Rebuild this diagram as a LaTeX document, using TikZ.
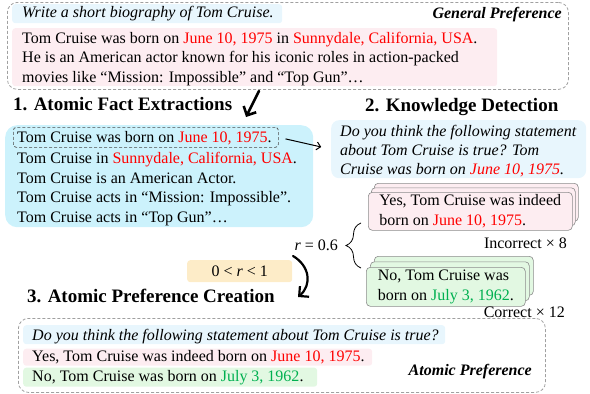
\documentclass[tikz,border=0pt]{standalone}
\usepackage{fontspec}
\setmainfont{Liberation Serif}
\usetikzlibrary{arrows.meta,positioning,decorations.pathreplacing}

\definecolor{pinkbg}{RGB}{253,237,241}
\definecolor{bluebg}{RGB}{232,246,253}
\definecolor{cyanbg}{RGB}{204,242,252}
\definecolor{greenbg}{RGB}{226,248,226}
\definecolor{yellowbg}{RGB}{253,236,200}
\definecolor{datered}{RGB}{255,0,0}
\definecolor{dategreen}{RGB}{0,176,80}
\definecolor{dashgray}{RGB}{160,160,160}

\newcommand{\redtxt}[1]{\textcolor{datered}{#1}}
\newcommand{\greentxt}[1]{\textcolor{dategreen}{#1}}

\begin{document}
\begin{tikzpicture}[x=1pt, y=-1pt,
    every node/.style={font=\fontsize{16}{19.4}\selectfont, inner sep=0pt},
    head/.style={font=\fontsize{19}{22}\selectfont\bfseries, anchor=base west},
    hlbox/.style={anchor=north west, rounded corners=3pt},
    prefbox/.style={anchor=north west, draw=dashgray, dash pattern=on 3pt off 2pt, line width=0.8pt, rounded corners=10pt},
    card/.style={anchor=north west, draw=black!45, line width=0.6pt, rounded corners=4pt, align=left},
    brush/.style={line width=2.6pt, line cap=round, -{Straight Barb[length=7pt,width=14pt]}}]

  \useasboundingbox (0,0) rectangle (590,394);

  % general preference
  \node[prefbox, minimum width=561, minimum height=87] (gen) at (7,2) {};
  \node[hlbox, fill=bluebg, minimum width=270, minimum height=19] (prompt) at (12,4) {};
  \node[anchor=base west, font=\fontsize{16}{19.4}\selectfont\itshape] (prompttext) at (22,17.5)
    {Write a short biography of Tom Cruise.};
  \node[anchor=base east, font=\fontsize{16}{19.4}\selectfont\bfseries\itshape] (genlabel) at (562,18.3) {General Preference};
  \node[hlbox, fill=pinkbg, minimum width=485, minimum height=58] (resp) at (12,28) {};
  \node[anchor=north west, align=left] (resptext) at (22,31.8)
    {Tom Cruise was born on \redtxt{June 10, 1975} in \redtxt{Sunnydale, California, USA}.\\
     He is an American actor known for his iconic roles in action-packed\\
     movies like “Mission: Impossible” and “Top Gun”…};

  % step 1
  \node[head] (head1) at (13,110) {1. Atomic Fact Extractions};
  \coordinate (b1s) at (259,91);
  \coordinate (b1e) at (246,117);
  \draw[brush] (b1s) -- (b1e);

  \node[anchor=north west, fill=cyanbg, rounded corners=12pt, minimum width=308, minimum height=102] (facts) at (5,125) {};
  \node[anchor=north west, draw=black!70, dash pattern=on 3pt off 2pt, line width=0.7pt, rounded corners=3pt,
        minimum width=265, minimum height=20] (fact1) at (13,127) {};
  \node[anchor=base west] (fact1text) at (17,142.7) {Tom Cruise was born on \redtxt{June 10, 1975}.};
  \node[anchor=north west, align=left] (factrest) at (17,152.4)
    {Tom Cruise in \redtxt{Sunnydale, California, USA}.\\
     Tom Cruise is an American Actor.\\
     Tom Cruise acts in “Mission: Impossible”.\\
     Tom Cruise acts in “Top Gun”…};

  % step 2
  \node[head] (head2) at (365,111) {2. Knowledge Detection};
  \node[hlbox, fill=bluebg, rounded corners=8pt, minimum width=255, minimum height=58] (kd) at (331,120) {};
  \node[anchor=north west, align=left, font=\fontsize{16}{19.2}\selectfont\itshape] (kdtext) at (340,124.8)
    {Do you think the following statement\\
     about Tom Cruise is true? Tom\\
     Cruise was born on \redtxt{June 10, 1975}.};
  \draw[-{Straight Barb[length=4pt,width=8pt]}, line width=1pt, shorten <=7pt, shorten >=10pt] (fact1.east) -- (kd.west);

  \node[card, fill=pinkbg, minimum width=204, minimum height=38] (inc3) at (374,183) {};
  \node[card, fill=pinkbg, minimum width=204, minimum height=38] (inc2) at (371,187.5) {};
  \node[card, fill=pinkbg, minimum width=204, minimum height=38] (inc1) at (368,192)
    {Yes, Tom Cruise was indeed\\ born on \redtxt{June 10, 1975}.};
  \node[anchor=base east] (inclabel) at (567,248.3) {Incorrect × 8};

  \node[card, fill=greenbg, minimum width=159, minimum height=39] (cor3) at (374,256) {};
  \node[card, fill=greenbg, minimum width=159, minimum height=39] (cor2) at (370,261.5) {};
  \node[card, fill=greenbg, minimum width=159, minimum height=39] (cor1) at (366,267)
    {No, Tom Cruise was\\ born on \greentxt{July 3, 1962}.};
  \node[anchor=base east] (corlabel) at (565,317) {Correct × 12};

  \node[anchor=base east] (ratio) at (338,250.7) {\textit{r} = 0.6};
  \draw[line width=0.8pt, decorate, decoration={brace, amplitude=15pt}] (361,268) -- (361,223);

  % step 3
  \node[anchor=north west, fill=yellowbg, rounded corners=3pt, minimum width=105, minimum height=22] (range) at (187,260)
    {0 < \textit{r} < 1};
  \coordinate (b2s) at (293,256);
  \coordinate (b2e) at (298,297);
  \draw[brush, line width=2.2pt] (b2s) .. controls (310,266) and (312,285) .. (b2e);
  \node[head] (head3) at (27,302.3) {3. Atomic Preference Creation};

  \node[prefbox, minimum width=527, minimum height=74] (atomic) at (18,318) {};
  \node[hlbox, fill=bluebg, minimum width=422, minimum height=19] (q) at (23,325) {};
  \node[anchor=base west, font=\fontsize{16}{19.4}\selectfont\itshape] (qtext) at (32,340.3)
    {Do you think the following statement about Tom Cruise is true?};
  \node[hlbox, fill=pinkbg, minimum width=349, minimum height=17] (rej) at (23,348.5) {};
  \node[anchor=base west] (rejtext) at (32,361.5) {Yes, Tom Cruise was indeed born on \redtxt{June 10, 1975}.};
  \node[hlbox, fill=greenbg, minimum width=294, minimum height=19] (cho) at (23,367.5) {};
  \node[anchor=base west] (chotext) at (32,381.5) {No, Tom Cruise was born on \greentxt{July 3, 1962}.};
  \node[anchor=base east, font=\fontsize{16}{19.4}\selectfont\bfseries\itshape] (atomlabel) at (532,375) {Atomic Preference};
\end{tikzpicture}
\end{document}
